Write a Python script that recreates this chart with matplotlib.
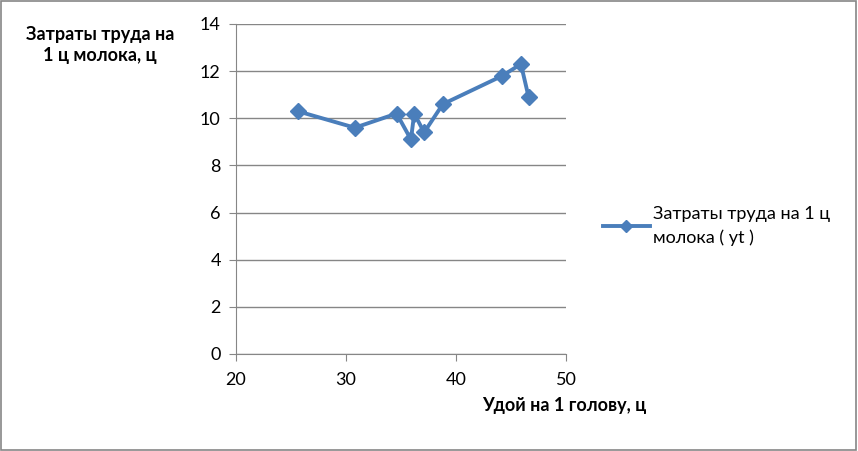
import matplotlib
matplotlib.use("Agg")
import matplotlib.pyplot as plt
from matplotlib.patches import Rectangle

plt.rcParams['font.family'] = ['Lato', 'DejaVu Sans']

yield_per_head = [25.6, 30.8, 34.6, 35.9, 36.2, 37.1, 38.8, 44.2, 45.9, 46.6]
labor_cost = [10.3, 9.6, 10.2, 9.1, 10.2, 9.4, 10.6, 11.8, 12.3, 10.9]
series_name = "Затраты труда на 1 ц\nмолока ( yt )"
x_ticks = [20, 30, 40, 50]
y_ticks = [0, 2, 4, 6, 8, 10, 12, 14]

fig = plt.figure(figsize=(8.58, 4.51), dpi=100)
ax = fig.add_axes([0.2751, 0.2151, 0.3846, 0.7317])

color = '#4A7EBB'
ax.plot(yield_per_head, labor_cost, color=color, lw=2.8, marker='D', ms=8,
        markerfacecolor=color, markeredgecolor=color, label=series_name, zorder=3)

ax.set_xlim(20, 50)
ax.set_ylim(0, 14)
ax.set_xticks(x_ticks)
ax.set_yticks(y_ticks)
ax.grid(axis='y', color='#868686', lw=1)
ax.set_axisbelow(True)
for s in ['top', 'right']:
    ax.spines[s].set_visible(False)
for s in ['left', 'bottom']:
    ax.spines[s].set_color('#868686')
ax.tick_params(direction='out', length=5, color='#868686', labelsize=13, pad=6)
ax.tick_params(axis='x', pad=8)

fig.text(100/858, 1-45/451, "Затраты труда на\n1 ц молока, ц", ha='center', va='center',
         fontsize=13, fontweight='bold', linespacing=1.25)
fig.text(564/858, 1-405/451, "Удой на 1 голову, ц", ha='center', va='center',
         fontsize=13, fontweight='bold')

leg = ax.legend(loc='center left', bbox_to_anchor=(603/858, 1-226/451),
                bbox_transform=fig.transFigure, frameon=False, fontsize=13,
                handlelength=2.6, handletextpad=0.15, borderaxespad=0, borderpad=0,
                markerscale=0.8)
for t in leg.get_texts():
    t.set_linespacing(1.55)

fig.patches.append(Rectangle((0.001, 0.002), 0.997, 0.995, transform=fig.transFigure,
                             fill=False, edgecolor='#868686', lw=1.2))

fig.savefig("out.png", dpi=100)
